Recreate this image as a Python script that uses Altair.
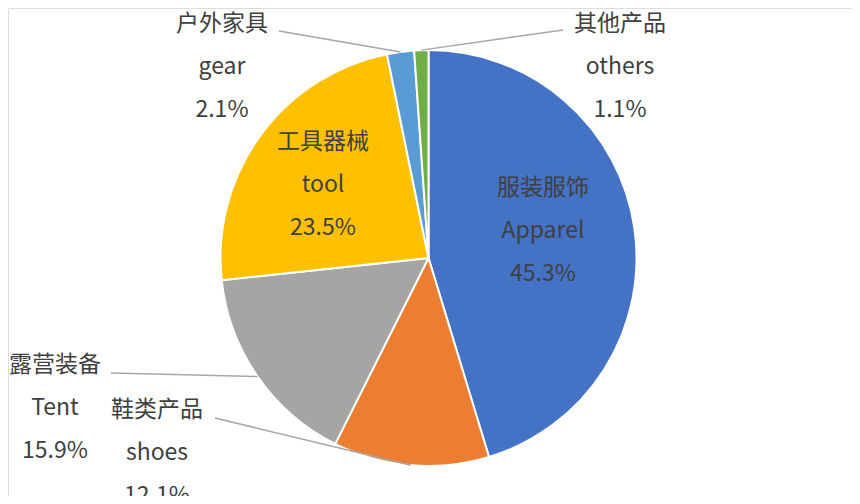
import math
import altair as alt
import pandas as pd

# ---- data ----
names_cn = ["服装服饰", "鞋类产品", "露营装备", "工具器械", "户外家具", "其他产品"]
names_en = ["Apparel", "shoes", "Tent", "tool", "gear", "others"]
shares = [45.3, 12.1, 15.9, 23.5, 2.1, 1.1]
pct_labels = ["45.3%", "12.1%", "15.9%", "23.5%", "2.1%", "1.1%"]
colors = ["#4472C4", "#ED7D31", "#A5A5A5", "#FFC000", "#5B9BD5", "#70AD47"]

# ---- layout (pixels in the plot area) ----
W, H = 844, 488
CX, CY, R = 420.5, 250, 208
LINE_GAP = 43
# label centre x, first line y, and leader start (None = label inside the slice)
label_pos = {
    "Apparel": (535, 180, None),
    "shoes": (149, 402, (207, 410)),
    "Tent": (47, 357, (103, 365)),
    "tool": (315, 134, None),
    "gear": (214, 16, (271, 23)),
    "others": (612, 16, (555, 22)),
}

pie_df = pd.DataFrame({
    "cat": names_en,
    "share": shares,
    "idx": list(range(len(shares))),
})

text_rows = []
rule_rows = []
total = sum(shares)
cum = 0.0
for cn, en, s, p in zip(names_cn, names_en, shares, pct_labels):
    mid = (cum + s / 2) / total * 2 * math.pi
    cum += s
    lx, ly, lead = label_pos[en]
    for i, t in enumerate([cn, en, p]):
        text_rows.append({"x": lx, "y": ly + i * LINE_GAP, "t": t})
    if lead is not None:
        ex = CX + R * math.sin(mid)
        ey = CY - R * math.cos(mid)
        rule_rows.append({"x": lead[0], "y": lead[1], "x2": ex, "y2": ey})

text_df = pd.DataFrame(text_rows)
rule_df = pd.DataFrame(rule_rows)

pie = alt.Chart(pie_df).mark_arc(radius=R, stroke="white", strokeWidth=2).encode(
    theta=alt.Theta("share:Q", stack=True),
    color=alt.Color("cat:N", scale=alt.Scale(domain=names_en, range=colors), legend=None),
    order=alt.Order("idx:Q"),
    x=alt.value(CX),
    y=alt.value(CY),
)

rules = alt.Chart(rule_df).mark_rule(color="#A6A6A6", strokeWidth=1.5).encode(
    x=alt.X("x:Q", scale=None),
    y=alt.Y("y:Q", scale=None),
    x2="x2:Q",
    y2="y2:Q",
)

texts = alt.Chart(text_df).mark_text(
    font="Noto Sans CJK SC", fontSize=23, color="#404040", align="center", baseline="middle"
).encode(
    x=alt.X("x:Q", scale=None),
    y=alt.Y("y:Q", scale=None),
    text="t:N",
)

chart = alt.layer(pie, rules, texts).properties(
    width=W, height=H, autosize=alt.AutoSizeParams(type="none"), padding=0
).configure_view(stroke=None).configure(background="white")

chart.save("out.html", embed_options={"renderer": "svg", "actions": False})
